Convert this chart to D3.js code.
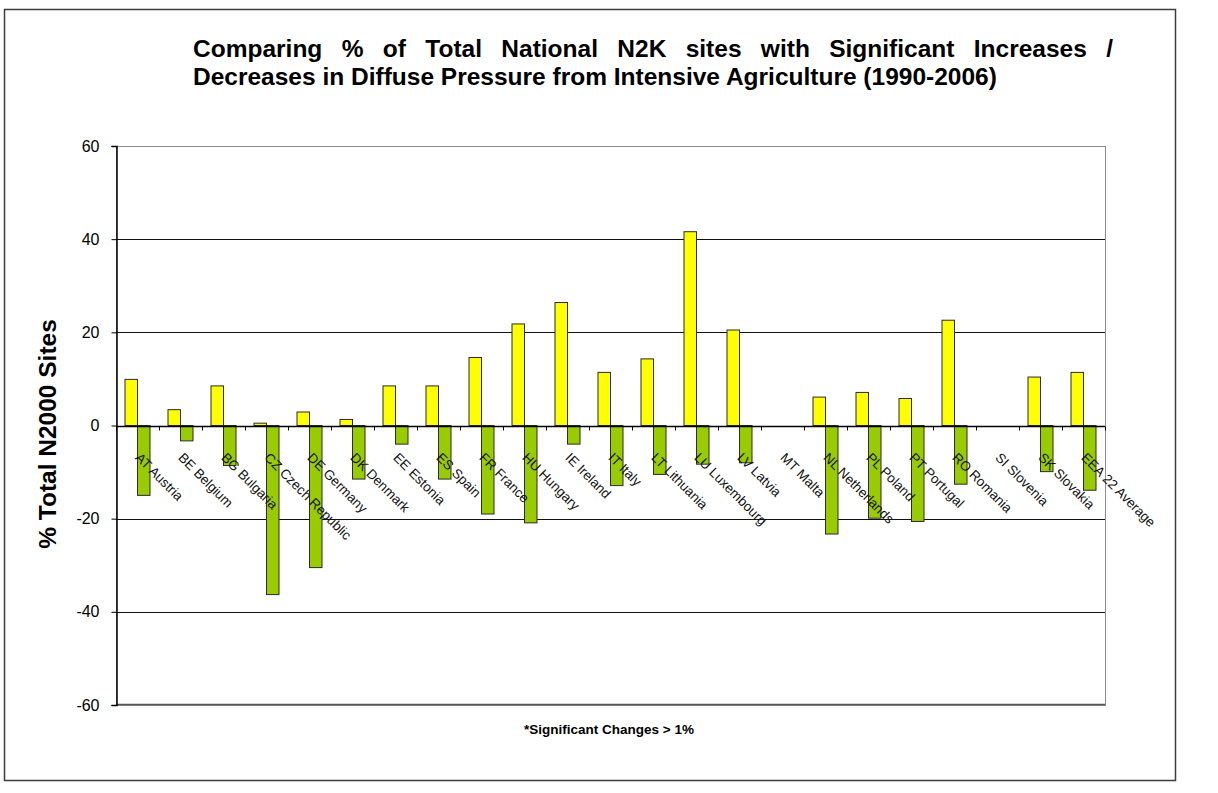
<!DOCTYPE html>
<html>
<head>
<meta charset="utf-8">
<script src="https://cdn.jsdelivr.net/npm/d3@7"></script>
<style>
  body { margin: 0; background: #fff; }
  text { font-family: "Liberation Sans", Arial, sans-serif; }
</style>
</head>
<body>
<div id="chart"></div>
<script>
// Category labels (country code + name)
const categories = [
    "AT Austria", "BE Belgium", "BG Bulgaria", "CZ Czech Republic", "DE Germany",
    "DK Denmark", "EE Estonia", "ES Spain", "FR France", "HU Hungary", "IE Ireland",
    "IT Italy", "LT Lithuania", "LU Luxembourg", "LV Latvia", "MT Malta",
    "NL Netherlands", "PL Poland", "PT Portugal", "RO Romania", "SI Slovenia",
    "SK Slovakia", "EEA 22 Average"
];
// % of sites with significant increases
const increases = [9.9, 3.4, 8.5, 0.5, 2.9, 1.3, 8.5, 8.5, 14.6, 21.8, 26.4,
    11.4, 14.3, 41.6, 20.5, 0, 6.1, 7.1, 5.8, 22.6, 0, 10.4, 11.4];
// % of sites with significant decreases
const decreases = [-15.0, -3.3, -8.6, -36.3, -30.5, -11.5, -4.0, -11.5, -19.0, -20.9, -4.0,
    -12.9, -10.5, -8.3, -8.0, 0, -23.3, -19.9, -20.6, -12.6, 0, -9.9, -13.9];
const yTicks = [-60, -40, -20, 0, 20, 40, 60];
const titleLines = [
    "Comparing % of Total National N2K sites with Significant Increases /",
    "Decreases in Diffuse Pressure from Intensive Agriculture (1990-2006)"
];
const yTitle = "% Total N2000 Sites";
const footnote = "*Significant Changes > 1%";

const W = 1218, H = 793;
const plot = {left: 116, right: 1105, top: 146, bottom: 705};

const svg = d3.select("#chart").append("svg")
    .attr("width", W)
    .attr("height", H);

// outer chart frame
svg.append("rect")
    .attr("x", 4.5).attr("y", 9.5)
    .attr("width", 1171).attr("height", 771)
    .attr("fill", "#fff")
    .attr("stroke", "#3c3c3c")
    .attr("stroke-width", 1.5);

const x = d3.scaleBand()
    .domain(categories)
    .range([plot.left, plot.right]);
const xSub = d3.scaleBand()
    .domain(["inc", "dec"])
    .range([0, x.bandwidth()])
    .paddingOuter(0.72);
const y = d3.scaleLinear()
    .domain([-60, 60])
    .range([plot.bottom, plot.top]);

// plot area border
svg.append("rect")
    .attr("x", plot.left + 0.5).attr("y", plot.top + 0.5)
    .attr("width", plot.right - plot.left).attr("height", plot.bottom - plot.top)
    .attr("fill", "none")
    .attr("stroke", "#8c8c8c");

// gridlines
svg.append("g")
    .selectAll("line")
    .data(yTicks.filter(d => d !== 0 && Math.abs(d) !== 60))
    .enter().append("line")
        .attr("x1", plot.left).attr("x2", plot.right)
        .attr("y1", d => Math.round(y(d)) + 0.5).attr("y2", d => Math.round(y(d)) + 0.5)
        .attr("stroke", "#111");
svg.append("line")
    .attr("x1", plot.left).attr("x2", plot.right)
    .attr("y1", Math.round(y(-60)) - 0.5).attr("y2", Math.round(y(-60)) - 0.5)
    .attr("stroke", "#555").attr("stroke-width", 1.5);

// y axis
const yAxis = svg.append("g")
    .attr("transform", `translate(${plot.left + 0.5},0)`)
    .call(d3.axisLeft(y).tickValues(yTicks).tickFormat(d => String(d)).tickSize(5).tickPadding(12));
yAxis.select(".domain").attr("stroke", "#000").attr("stroke-width", 1.5);
yAxis.selectAll(".tick line").attr("stroke", "#000");
yAxis.selectAll(".tick text")
    .attr("font-family", "'Liberation Sans', Arial, sans-serif")
    .attr("font-size", 16)
    .attr("fill", "#000");

// bars
const groups = svg.append("g")
    .selectAll("g")
    .data(categories.map((c, i) => ({cat: c, inc: increases[i], dec: decreases[i]})))
    .enter().append("g")
        .attr("transform", d => `translate(${x(d.cat)},0)`);

groups.filter(d => d.inc !== 0).append("rect")
    .attr("x", xSub("inc"))
    .attr("width", xSub.bandwidth())
    .attr("y", d => y(d.inc))
    .attr("height", d => y(0) - y(d.inc))
    .attr("fill", "#ffff00")
    .attr("stroke", "#2b2b2b");

groups.filter(d => d.dec !== 0).append("rect")
    .attr("x", xSub("dec"))
    .attr("width", xSub.bandwidth())
    .attr("y", y(0))
    .attr("height", d => y(d.dec) - y(0))
    .attr("fill", "#99cc00")
    .attr("stroke", "#2b2b2b");

// category axis along zero
const y0 = Math.round(y(0)) + 0.5;
svg.append("line")
    .attr("x1", plot.left).attr("x2", plot.right)
    .attr("y1", y0).attr("y2", y0)
    .attr("stroke", "#000").attr("stroke-width", 1.5);
svg.append("g")
    .selectAll("line")
    .data(categories.map(c => x(c)).concat([plot.right]))
    .enter().append("line")
        .attr("x1", d => Math.round(d) + 0.5).attr("x2", d => Math.round(d) + 0.5)
        .attr("y1", y0).attr("y2", y0 + 4)
        .attr("stroke", "#000");

// rotated category labels
svg.append("g")
    .selectAll("text")
    .data(categories)
    .enter().append("text")
        .attr("transform", d => `translate(${x(d) + x.bandwidth() / 2 - 3},${y0 + 32}) rotate(45)`)
        .attr("font-size", 13.5)
        .attr("fill", "#111")
        .text(d => d);

// title, first line justified
const title = svg.append("g");
titleLines.forEach((line, i) => {
    const t = title.append("text")
        .attr("x", 193)
        .attr("y", 57 + i * 28)
        .attr("font-size", 24.5)
        .attr("font-weight", "bold")
        .attr("fill", "#000")
        .text(line);
    if (i === 0) {
        const natural = t.node().getComputedTextLength();
        const spaces = line.split(" ").length - 1;
        t.attr("word-spacing", (1113 - 193 - natural) / spaces);
    }
});

// y axis title
svg.append("text")
    .attr("transform", `translate(56,434) rotate(-90)`)
    .attr("text-anchor", "middle")
    .attr("font-size", 24.5)
    .attr("font-weight", "bold")
    .attr("fill", "#000")
    .text(yTitle);

// footnote
svg.append("text")
    .attr("x", 609)
    .attr("y", 734)
    .attr("text-anchor", "middle")
    .attr("font-size", 13.5)
    .attr("font-weight", "bold")
    .attr("fill", "#000")
    .text(footnote);
</script>
</body>
</html>
